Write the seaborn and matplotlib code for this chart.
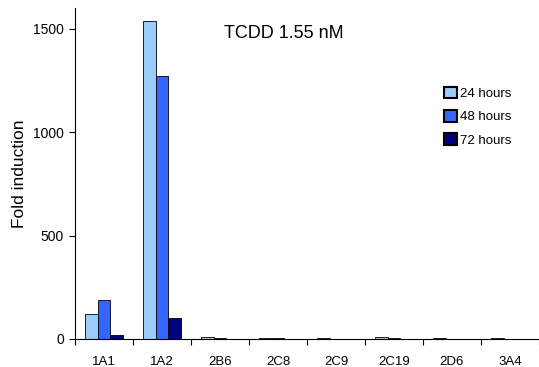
import pandas as pd
import matplotlib.pyplot as plt
import seaborn as sns
from matplotlib.patches import Patch

# data
genes = ['1A1', '1A2', '2B6', '2C8', '2C9', '2C19', '2D6', '3A4']
hours = ['24 hours', '48 hours', '72 hours']
fold_24h = [122, 1540, 10, 5, 3, 8, 3, 4]
fold_48h = [187, 1271, 5, 3, 2, 3, 2, 2]
fold_72h = [21, 100, 2, 2, 1, 2, 2, 1]
colors = ['#99CCFF', '#3366FF', '#000080']

df = pd.DataFrame({
    'Gene': genes * 3,
    'Time': [h for h in hours for _ in genes],
    'Fold': fold_24h + fold_48h + fold_72h,
})

sns.set_style('white')
plt.rcParams['font.family'] = ['Liberation Sans', 'DejaVu Sans']
plt.rcParams['text.color'] = 'black'
plt.rcParams['axes.labelcolor'] = 'black'
plt.rcParams['xtick.color'] = 'black'
plt.rcParams['ytick.color'] = 'black'

fig = plt.figure(figsize=(5.39, 3.67), dpi=100)
ax = fig.add_axes([75 / 539, 28 / 367, 464 / 539, 330.7 / 367])

sns.barplot(data=df, x='Gene', y='Fold', hue='Time', palette=colors, saturation=1,
            width=0.67, edgecolor='black', linewidth=0.6, ax=ax, legend=False)

ax.set_xlim(-0.5, 7.3)
ax.set_ylim(0, 1600)
ax.set_yticks([0, 500, 1000, 1500])
ax.set_xticks([i - 0.5 for i in range(9)], minor=True)
ax.tick_params(axis='x', which='major', length=0, labelsize=9.5, pad=12)
ax.tick_params(axis='x', which='minor', length=4, width=0.8, direction='out', bottom=True)
ax.tick_params(axis='y', length=4, width=0.8, direction='out', left=True, labelsize=10, pad=4)
for s in ['top', 'right']:
    ax.spines[s].set_visible(False)
for s in ['left', 'bottom']:
    ax.spines[s].set_color('black')
    ax.spines[s].set_linewidth(0.8)

ax.set_xlabel('')
ax.set_ylabel('Fold induction', fontsize=12.5, labelpad=4)
fig.text(284 / 539, 1 - 33 / 367, 'TCDD 1.55 nM', fontsize=13, ha='center', va='center')

handles = [Patch(facecolor=c, edgecolor='black', linewidth=1.5, label=h) for c, h in zip(colors, hours)]
fig.legend(handles=handles, loc='upper left', bbox_to_anchor=(437 / 539, 1 - 80 / 367),
           frameon=False, fontsize=9.5, handlelength=1.0, handleheight=1.0,
           handletextpad=0.25, labelspacing=0.75, borderpad=0)

fig.savefig('out.png', dpi=100)
